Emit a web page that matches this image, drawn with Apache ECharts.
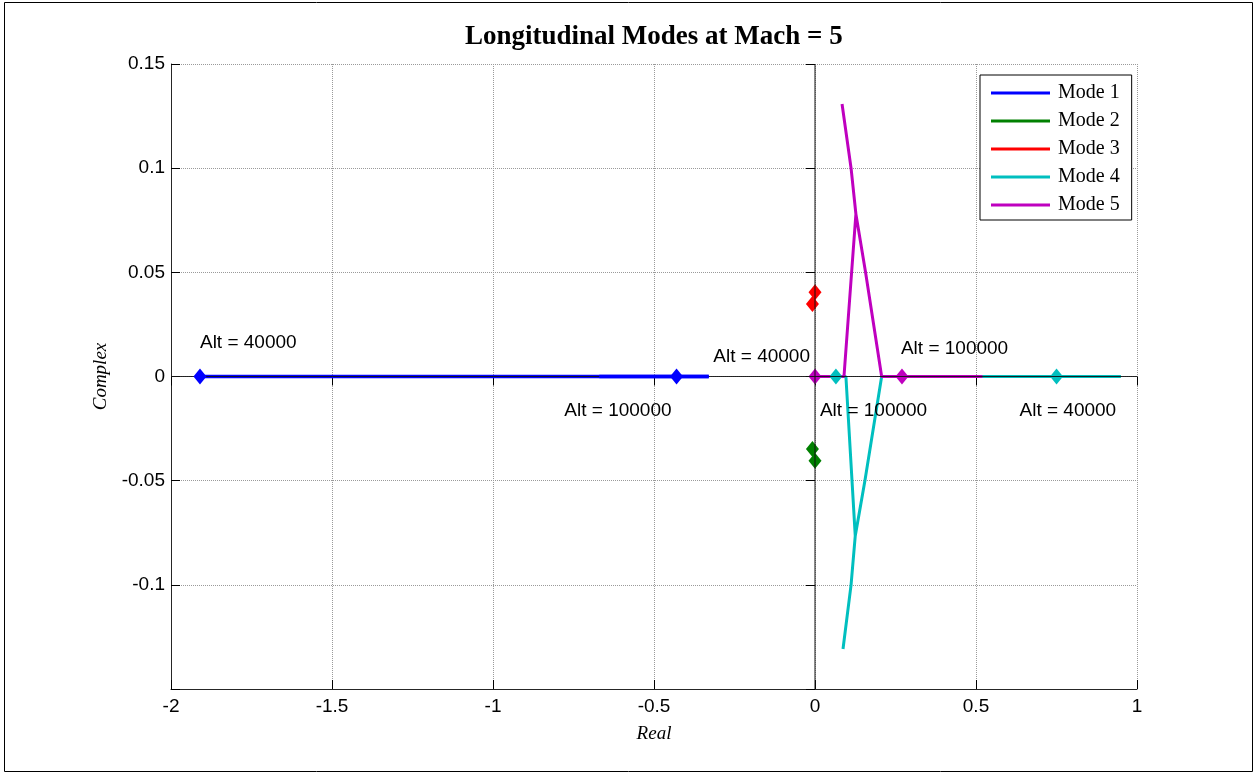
<!DOCTYPE html>
<html>
<head>
<meta charset="utf-8">
<title>Longitudinal Modes at Mach = 5</title>
<script src="https://cdn.jsdelivr.net/npm/echarts@6/dist/echarts.min.js"></script>
<style>
  html, body { margin: 0; padding: 0; background: #fff; }
  #chart { width: 1257px; height: 775px; }
</style>
</head>
<body>
<div id="chart"></div>
<script>
// Eigenvalue loci (real, imaginary) of the longitudinal modes, 40000 ft -> 100000 ft
const modeNames = ['Mode 1', 'Mode 2', 'Mode 3', 'Mode 4', 'Mode 5'];
const modeColors = ['#0000ff', '#008000', '#ff0000', '#00bfbf', '#bf00bf'];
const modeWidths = [3.6, 3, 3, 3, 3];

const mode1Re = [-1.91, -1.5, -1.1, -0.8, -0.67, -0.33, -0.43];
const mode1Im = [0, 0, 0, 0, 0, 0, 0];

const mode2Re = [0, -0.004, -0.008];
const mode2Im = [-0.0404, -0.0376, -0.0348];

const mode3Re = [0, -0.004, -0.008];
const mode3Im = [0.0404, 0.0376, 0.0348];

const mode4Re = [0.75, 0.95, 0.52, 0.207, 0.155, 0.125, 0.112, 0.087, 0.112, 0.125, 0.096, 0.065];
const mode4Im = [0, 0, 0, 0, -0.05, -0.0765, -0.1, -0.1308, -0.1, -0.0765, 0, 0];

const mode5Re = [0, 0.03, 0.09, 0.127, 0.112, 0.084, 0.112, 0.127, 0.157, 0.207, 0.52, 0.27];
const mode5Im = [0, 0, 0, 0.078, 0.1, 0.1308, 0.1, 0.078, 0.05, 0, 0, 0];

// index from which the last part of the Mode 1 locus is redrawn over the zero line
const mode1TailStart = 4;

// altitude annotations at the ends of the loci
const altFirst = 'Alt = 40000';
const altLast = 'Alt = 100000';
const annotatedModes = [0, 3, 4];

const xRange = [-2, 1];
const yRange = [-0.15, 0.15];
const xTicks = [-2, -1.5, -1, -0.5, 0, 0.5, 1];
const yTicks = [0.15, 0.1, 0.05, 0, -0.05, -0.1];

const modes = [
  [mode1Re, mode1Im], [mode2Re, mode2Im], [mode3Re, mode3Im],
  [mode4Re, mode4Im], [mode5Re, mode5Im]
];
const toPoints = (re, im) => re.map((r, i) => [r, im[i]]);

// label placement (pixels) for each annotated end point
const labelPlacement = {
  '0-first': { align: 'left',  offset: [0, -34] },
  '0-last':  { align: 'right', offset: [-5, 34] },
  '3-first': { align: 'left',  offset: [-37, 34] },
  '3-last':  { align: 'left',  offset: [-16, 34] },
  '4-first': { align: 'right', offset: [-5, -20] },
  '4-last':  { align: 'left',  offset: [-1, -28] }
};

const sansFont = '"Liberation Sans", Arial, sans-serif';
const serifFont = '"Liberation Serif", "Times New Roman", serif';

const series = [];

modes.forEach(([re, im], i) => {
  series.push({
    type: 'line',
    name: modeNames[i],
    data: toPoints(re, im),
    showSymbol: false,
    symbol: 'none',
    lineStyle: { color: modeColors[i], width: modeWidths[i] },
    itemStyle: { color: modeColors[i] },
    z: 2,
    silent: true
  });
});

// zero lines through the origin
series.push({
  type: 'line', name: 'zeroH',
  data: [[xRange[0], 0], [xRange[1], 0]],
  showSymbol: false, symbol: 'none',
  lineStyle: { color: '#111', width: 0.9 }, z: 4, silent: true
});
series.push({
  type: 'line', name: 'zeroV',
  data: [[0, yRange[0]], [0, yRange[1]]],
  showSymbol: false, symbol: 'none',
  lineStyle: { color: '#111', width: 1 }, z: 4, silent: true
});

// end part of Mode 1 drawn on top
series.push({
  type: 'line',
  name: modeNames[0],
  data: toPoints(mode1Re, mode1Im).slice(mode1TailStart),
  showSymbol: false, symbol: 'none',
  lineStyle: { color: modeColors[0], width: 3.6 },
  itemStyle: { color: modeColors[0] },
  z: 5, silent: true
});

// start / end markers
modes.forEach(([re, im], i) => {
  const pts = toPoints(re, im);
  const ends = [['first', pts[0], altFirst], ['last', pts[pts.length - 1], altLast]];
  const data = ends.map(([key, p, text]) => {
    const item = { value: p };
    if (annotatedModes.includes(i)) {
      const pl = labelPlacement[i + '-' + key];
      item.label = {
        show: true,
        formatter: text,
        position: 'inside',
        align: pl.align,
        verticalAlign: 'middle',
        offset: pl.offset,
        color: '#000',
        fontFamily: sansFont,
        fontSize: 19
      };
    }
    return item;
  });
  series.push({
    type: 'scatter',
    name: modeNames[i],
    data: data,
    symbol: 'diamond',
    symbolSize: [13, 16],
    itemStyle: { color: modeColors[i], opacity: 1 },
    label: { show: false },
    z: i === 0 ? 6 : 3,
    silent: true
  });
});

const chart = echarts.init(document.getElementById('chart'), null, { renderer: 'canvas' });

const axisCommon = {
  type: 'value'
};

chart.setOption({
  animation: false,
  backgroundColor: '#fff',
  title: {
    text: 'Longitudinal Modes at Mach = 5',
    left: 465,
    top: 24,
    padding: 0,
    textStyle: { fontFamily: serifFont, fontWeight: 'bold', fontSize: 27, color: '#000' }
  },
  graphic: [{
    type: 'rect',
    shape: { x: 4.5, y: 2.5, width: 1248, height: 769 },
    style: { fill: 'none', stroke: '#000', lineWidth: 1 },
    silent: true,
    z: -1
  }],
  legend: {
    data: modeNames,
    orient: 'vertical',
    left: 980,
    top: 75,
    padding: [7, 12, 4, 11],
    itemGap: 6,
    itemWidth: 59,
    itemHeight: 3,
    icon: 'rect',
    backgroundColor: '#fff',
    borderColor: '#000',
    borderWidth: 1,
    selectedMode: false,
    textStyle: { fontFamily: serifFont, fontSize: 20, color: '#000', lineHeight: 22, padding: [0, 0, 0, 3] }
  },
  grid: { left: 171, top: 64, right: 120, bottom: 86, containLabel: false },
  xAxis: [{
    ...axisCommon,
    min: xRange[0], max: xRange[1], interval: 0.5,
    name: 'Real',
    nameLocation: 'middle',
    nameGap: 35,
    nameTextStyle: { fontFamily: serifFont, fontStyle: 'italic', fontSize: 19, color: '#000' },
    axisLine: { show: true, onZero: false, lineStyle: { color: '#262626', width: 1 } },
    axisTick: { show: true, inside: true, length: 9, lineStyle: { color: '#000' } },
    axisLabel: {
      margin: 8, color: '#000', fontFamily: sansFont, fontSize: 19,
      formatter: v => xTicks.some(t => Math.abs(t - v) < 1e-9) ? String(+v.toFixed(2)) : ''
    },
    splitLine: { show: true, lineStyle: { color: '#9a9a9a', type: 'dotted', width: 1 } }
  }, {
    ...axisCommon,
    position: 'top',
    min: xRange[0], max: xRange[1], interval: 0.5,
    axisLine: { show: false },
    axisTick: { show: true, inside: true, length: 9, lineStyle: { color: '#000' } },
    axisLabel: { show: false },
    splitLine: { show: false }
  }],
  yAxis: [{
    ...axisCommon,
    min: yRange[0], max: yRange[1], interval: 0.05,
    name: 'Complex',
    nameLocation: 'middle',
    nameGap: 60,
    nameRotate: 90,
    nameTextStyle: { fontFamily: serifFont, fontStyle: 'italic', fontSize: 19, color: '#000' },
    axisLine: { show: true, onZero: false, lineStyle: { color: '#262626', width: 1 } },
    axisTick: { show: true, inside: true, length: 9, lineStyle: { color: '#000' } },
    axisLabel: {
      margin: 6, color: '#000', fontFamily: sansFont, fontSize: 19,
      formatter: v => yTicks.some(t => Math.abs(t - v) < 1e-9) ? String(+v.toFixed(2)) : ''
    },
    splitLine: { show: true, lineStyle: { color: '#9a9a9a', type: 'dotted', width: 1 } }
  }, {
    ...axisCommon,
    position: 'right',
    min: yRange[0], max: yRange[1], interval: 0.05,
    axisLine: { show: false },
    axisTick: { show: true, inside: true, length: 9, lineStyle: { color: '#000' } },
    axisLabel: { show: false },
    splitLine: { show: false }
  }],
  series: series
});
</script>
</body>
</html>
